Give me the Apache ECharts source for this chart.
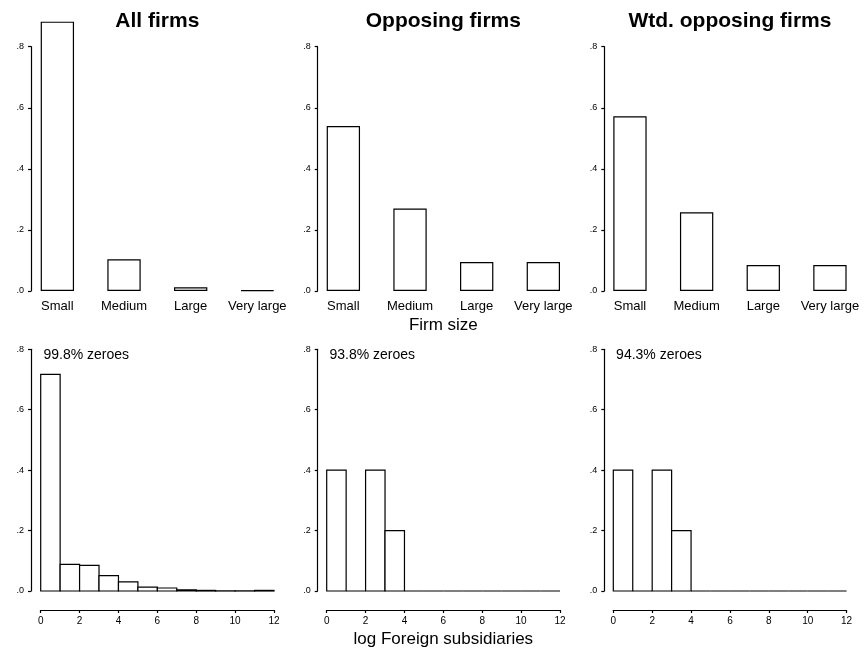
<!DOCTYPE html>
<html><head><meta charset="utf-8">
<script src="https://cdn.jsdelivr.net/npm/echarts@6/dist/echarts.min.js"></script>
<style>html,body{margin:0;padding:0;background:#fff}#c{width:865px;height:653px}</style>
</head><body><div id="c"></div>
<script>
// ---- data ----
const panelTitles = ['All firms', 'Opposing firms', 'Wtd. opposing firms'];
const sizeCategories = ['Small', 'Medium', 'Large', 'Very large'];
const sizeAll = [0.882, 0.104, 0.012, 0.002];
const sizeOpposing = [0.540, 0.270, 0.095, 0.095];
const sizeWtdOpposing = [0.572, 0.258, 0.085, 0.085];
const binStarts = [0, 1, 2, 3, 4, 5, 6, 7, 8, 9, 10, 11];
const binWidth = 1;
const subsAll = [0.717, 0.088, 0.085, 0.051, 0.030, 0.013, 0.010, 0.004, 0.002, 0.0005, 0.0005, 0.002];
const subsOpposing = [0.4, 0, 0.4, 0.2, 0, 0, 0, 0, 0, 0, 0, 0];
const subsWtdOpposing = [0.4, 0, 0.4, 0.2, 0, 0, 0, 0, 0, 0, 0, 0];
const zeroShares = ['99.8% zeroes', '93.8% zeroes', '94.3% zeroes'];
const topXTitle = 'Firm size';
const bottomXTitle = 'log Foreign subsidiaries';
const yMax = 0.8, yStep = 0.2;
const xMax = 12, xStep = 2;

// ---- layout ----
const FONT = 'Liberation Sans, Arial, Helvetica, sans-serif';
const dataLeft = [40.7, 326.7, 613.3];
const axisX = [31, 317.7, 604.3];
const dataW = 233.3;
const band = dataW / 3.5;
const topTop = 46.7, topH = 244.3;
const botTop = 349.3, botH = 241.7;
const LW = 1.2;

const sizeSeries = [sizeAll, sizeOpposing, sizeWtdOpposing];
const subsSeries = [subsAll, subsOpposing, subsWtdOpposing];

const grids = [], xAxes = [], yAxes = [], series = [], graphic = [];
const yFmt = v => v.toFixed(1).replace(/^0/, '');

for (let i = 0; i < 3; i++) {
  const gl = dataLeft[i] - band / 4;
  grids.push({left: gl, top: topTop, width: band * 4, height: topH, containLabel: false, outerBoundsMode: 'none'});
  grids.push({left: dataLeft[i], top: botTop, width: dataW, height: botH, containLabel: false, outerBoundsMode: 'none'});
  const gTop = 2 * i, gBot = 2 * i + 1;
  xAxes.push({
    gridIndex: gTop, type: 'category', data: sizeCategories, boundaryGap: true,
    axisLine: {show: false, onZero: false}, axisTick: {show: false}, splitLine: {show: false},
    axisLabel: {interval: 0, color: '#000', fontSize: 13, fontFamily: FONT, margin: 9}
  });
  yAxes.push({
    gridIndex: gTop, type: 'value', min: 0, max: yMax, interval: yStep, offset: -(axisX[i] - gl),
    axisLine: {show: true, onZero: false, lineStyle: {color: '#000', width: LW}},
    axisTick: {show: true, length: 3, lineStyle: {color: '#000', width: LW}},
    splitLine: {show: false},
    axisLabel: {color: '#000', fontSize: 9, fontFamily: FONT, margin: 7, formatter: yFmt}
  });
  xAxes.push({
    gridIndex: gBot, type: 'value', min: 0, max: xMax, interval: xStep, offset: 19,
    axisLine: {show: true, onZero: false, lineStyle: {color: '#000', width: LW}},
    axisTick: {show: true, length: 3, lineStyle: {color: '#000', width: LW}},
    splitLine: {show: false},
    axisLabel: {color: '#000', fontSize: 10, fontFamily: FONT, margin: 6}
  });
  yAxes.push({
    gridIndex: gBot, type: 'value', min: 0, max: yMax, interval: yStep, offset: dataLeft[i] - axisX[i],
    axisLine: {show: true, onZero: false, lineStyle: {color: '#000', width: LW}},
    axisTick: {show: true, length: 3, lineStyle: {color: '#000', width: LW}},
    splitLine: {show: false},
    axisLabel: {color: '#000', fontSize: 9, fontFamily: FONT, margin: 7, formatter: yFmt}
  });
  series.push({
    type: 'bar', xAxisIndex: gTop, yAxisIndex: gTop, data: sizeSeries[i],
    barCategoryGap: '50%', clip: false, silent: true,
    itemStyle: {color: '#fff', borderColor: '#000', borderWidth: LW}
  });
  series.push({
    type: 'custom', xAxisIndex: gBot, yAxisIndex: gBot, silent: true, clip: false,
    encode: {x: 0, y: 1},
    data: binStarts.map((s, k) => [s, subsSeries[i][k]]),
    renderItem: function (params, api) {
      const x0 = api.value(0), v = api.value(1);
      const p0 = api.coord([x0, v]);
      const p1 = api.coord([x0 + binWidth, 0]);
      return {type: 'rect', shape: {x: p0[0], y: p0[1], width: p1[0] - p0[0], height: p1[1] - p0[1]},
        style: {fill: '#fff', stroke: '#000', lineWidth: LW}};
    }
  });
  graphic.push({type: 'text', x: dataLeft[i] + dataW / 2, y: 21.7, silent: true,
    style: {text: panelTitles[i], fill: '#000', font: 'bold 21px ' + FONT, textAlign: 'center', textVerticalAlign: 'middle'}});
  graphic.push({type: 'text', x: dataLeft[i] + 2.8, y: 355.5, silent: true,
    style: {text: zeroShares[i], fill: '#000', font: '14px ' + FONT, textAlign: 'left', textVerticalAlign: 'middle'}});
}
graphic.push({type: 'text', x: dataLeft[1] + dataW / 2, y: 325, silent: true,
  style: {text: topXTitle, fill: '#000', font: '17px ' + FONT, textAlign: 'center', textVerticalAlign: 'middle'}});
graphic.push({type: 'text', x: dataLeft[1] + dataW / 2, y: 639, silent: true,
  style: {text: bottomXTitle, fill: '#000', font: '17px ' + FONT, textAlign: 'center', textVerticalAlign: 'middle'}});

const chart = echarts.init(document.getElementById('c'), null, {renderer: 'canvas'});
chart.setOption({
  animation: false, backgroundColor: '#fff',
  grid: grids, xAxis: xAxes, yAxis: yAxes, series: series, graphic: graphic
});
</script></body></html>
